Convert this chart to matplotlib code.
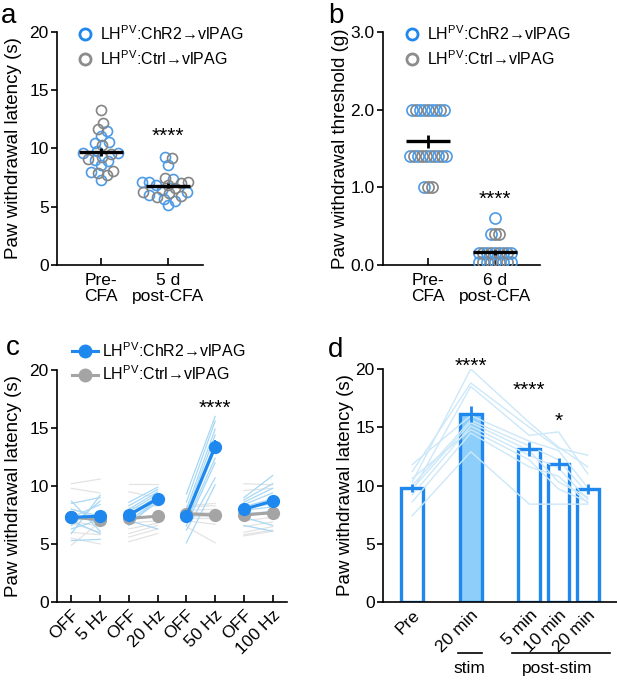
import numpy as np
import matplotlib
matplotlib.use('Agg')
import matplotlib.pyplot as plt
import matplotlib.transforms as mtransforms
from matplotlib.lines import Line2D

plt.rcParams['font.family'] = ['Liberation Sans', 'DejaVu Sans']
plt.rcParams['mathtext.fontset'] = 'custom'
plt.rcParams['mathtext.rm'] = 'Liberation Sans'
plt.rcParams['mathtext.it'] = 'Liberation Sans:italic'

# --- data -------------------------------------------------------------
# a: thermal latency (s), pre-CFA vs 5 d post-CFA
a_pre_chr2 = [11.5, 11.1, 10.6, 10.5, 9.8, 9.6, 9.6, 9.0, 8.9, 8.6, 8.0, 7.3]
a_pre_ctrl = [13.3, 12.2, 11.7, 10.3, 9.5, 9.3, 9.1, 8.1, 7.9, 7.7]
a_post_chr2 = [9.3, 8.6, 7.4, 7.15, 7.1, 6.9, 6.45, 6.3, 6.0, 5.7, 5.5, 5.15]
a_post_ctrl = [9.15, 7.5, 7.1, 7.0, 6.9, 6.6, 6.3, 6.2, 5.9, 5.85]

# b: mechanical threshold (g), pre-CFA vs 6 d post-CFA
b_pre_chr2 = [2.0, 2.0, 2.0, 2.0, 2.0, 2.0, 1.4, 1.4, 1.4, 1.4, 1.4, 1.0]
b_pre_ctrl = [2.0, 2.0, 2.0, 1.4, 1.4, 1.4, 1.4, 1.4, 1.0, 1.0]
b_post_chr2 = [0.6, 0.4, 0.16, 0.16, 0.16, 0.16, 0.16, 0.04, 0.04, 0.04, 0.04, 0.04]
b_post_ctrl = [0.4, 0.4, 0.16, 0.16, 0.16, 0.16, 0.04, 0.04, 0.04, 0.04]

# c: OFF vs laser at 5/20/50/100 Hz, individual mice and group means
c_labels = ['OFF', '5 Hz', 'OFF', '20 Hz', 'OFF', '50 Hz', 'OFF', '100 Hz']
c_chr2_off = [[8.7, 8.5, 8.0, 7.6, 7.3, 7.0, 6.6, 6.3, 5.9, 5.3],
              [8.6, 8.3, 8.0, 7.8, 7.6, 7.3, 7.0, 6.8, 6.6, 7.0],
              [9.3, 8.6, 8.0, 7.6, 7.4, 7.1, 6.9, 6.6, 6.2, 5.1],
              [9.0, 8.8, 8.6, 8.4, 8.2, 8.0, 7.9, 7.6, 7.3, 6.6]]
c_chr2_on = [[6.1, 9.0, 7.4, 6.8, 8.4, 5.9, 8.7, 7.1, 9.2, 5.4],
             [9.9, 9.7, 9.5, 9.3, 9.1, 8.9, 8.8, 8.6, 8.9, 6.3],
             [16.0, 15.6, 14.9, 14.4, 13.8, 13.1, 12.4, 12.0, 10.7, 10.1],
             [10.9, 10.2, 9.8, 9.4, 8.9, 8.5, 8.2, 7.8, 6.6, 6.1]]
c_ctrl_off = [[10.2, 9.8, 8.0, 7.5, 7.0, 6.8, 6.0, 5.5, 4.9],
              [10.2, 9.5, 8.1, 7.2, 6.8, 6.3, 5.9, 5.6, 5.2],
              [8.3, 8.2, 7.9, 7.8, 7.6, 7.4, 7.2, 7.0, 6.5],
              [10.2, 9.6, 8.0, 7.5, 7.0, 6.5, 6.0, 5.8, 5.7]]
c_ctrl_on = [[10.6, 9.4, 7.2, 6.8, 6.5, 6.0, 5.8, 5.0, 6.9],
             [10.2, 9.0, 8.3, 7.4, 7.0, 6.8, 6.6, 6.3, 5.9],
             [8.5, 8.3, 8.0, 7.8, 7.6, 7.4, 7.2, 6.7, 5.1],
             [10.1, 9.8, 8.6, 7.8, 7.3, 6.9, 6.5, 6.2, 6.1]]
c_chr2_mean_off = [7.3, 7.5, 7.4, 8.0]
c_chr2_mean_on = [7.4, 8.9, 13.4, 8.7]
c_chr2_sem_on = [0.4, 0.35, 0.55, 0.45]
c_ctrl_mean_off = [7.3, 7.2, 7.6, 7.5]
c_ctrl_mean_on = [7.1, 7.4, 7.5, 7.7]

# d: time course around 20 min of stimulation
d_labels = ['Pre', '20 min', '5 min', '10 min', '20 min']
d_mean = [9.8, 16.15, 13.15, 11.85, 9.7]
d_sem = [0.35, 0.7, 0.6, 0.55, 0.4]
d_mice = [[10.3, 20.0, 15.4, 13.3, 11.6],
          [11.2, 18.8, 15.0, 13.2, 12.6],
          [9.5, 18.5, 14.3, 14.6, 11.0],
          [11.8, 16.0, 13.8, 13.0, 9.8],
          [10.0, 15.6, 13.4, 12.2, 9.3],
          [9.7, 15.4, 13.0, 10.3, 9.0],
          [9.2, 15.1, 12.6, 11.5, 8.8],
          [10.6, 14.8, 12.2, 9.7, 8.6],
          [8.6, 14.5, 11.6, 10.8, 8.5],
          [7.4, 12.9, 8.4, 8.4, 8.4]]

BLUE_O = '#4D9BE6'
GRAY_O = '#858585'
BLUE = '#1F88EE'
GRAY = '#A4A4A4'
LBLUE = '#A8D8F5'
LGRAY = '#E3E3E3'
DLINE = '#CCE8F9'
FILL = '#8DCFFA'

LEG_CHR2 = 'LH$^{\\mathrm{PV}}$:ChR2\u2192vlPAG'
LEG_CTRL = 'LH$^{\\mathrm{PV}}$:Ctrl\u2192vlPAG'

W, H = 617, 680
fig = plt.figure(figsize=(W / 100, H / 100), dpi=100)


def px_axes(l, r, t, b):
    return fig.add_axes([l / W, 1 - b / H, (r - l) / W, (b - t) / H])


def style(ax, xin=True):
    for s in ['top', 'right']:
        ax.spines[s].set_visible(False)
    for s in ['left', 'bottom']:
        ax.spines[s].set_linewidth(1.2)
    ax.tick_params(axis='y', direction='out', length=4, width=1.2, labelsize=12.5, pad=2)
    if xin:
        ax.tick_params(axis='x', direction='in', length=5, width=1.2, labelsize=12.5, pad=6)
    else:
        ax.tick_params(axis='x', length=0, labelsize=12.5, pad=4)


def swarm(vals, xpx, ypx, d):
    # simple beeswarm: returns x offsets in data units
    vals = np.asarray(vals, float)
    offs = np.zeros(len(vals))
    placed = []
    for i in np.argsort(vals):
        y = vals[i] * ypx
        cands = [0.0]
        for px, py in placed:
            dy = y - py
            if abs(dy) < d:
                dx = np.sqrt(d * d - dy * dy)
                cands += [px + dx, px - dx]
        for c in sorted(cands, key=abs):
            if all((c - px) ** 2 + (y - py) ** 2 >= d * d - 1e-6 for px, py in placed):
                offs[i] = c
                placed.append((c, y))
                break
    return offs / xpx


def mean_sem(ax, x, vals, half):
    v = np.asarray(vals, float)
    m = v.mean()
    s = v.std(ddof=1) / np.sqrt(len(v))
    ax.hlines(m, x - half, x + half, color='k', lw=2.4, zorder=5)
    ax.vlines(x, m - s, m + s, color='k', lw=2, zorder=5)


leg_kw = dict(bbox_transform=fig.transFigure, frameon=False, fontsize=11.5, borderpad=0,
              borderaxespad=0, loc='upper left')

# --- panel a ------------------------------------------------------------
ax = px_axes(57, 203, 32, 265)
style(ax)
for i, (vb, vg) in enumerate([(a_pre_chr2, a_pre_ctrl), (a_post_chr2, a_post_ctrl)]):
    off = swarm(vb + vg, 67, 11.65, 7.6)
    nb = len(vb)
    ax.plot(i + off[:nb], vb, 'o', mfc='none', mec=BLUE_O, ms=7.2, mew=1.2, zorder=3)
    ax.plot(i + off[nb:], vg, 'o', mfc='none', mec=GRAY_O, ms=7.2, mew=1.2, zorder=3)
    mean_sem(ax, i, vb + vg, 0.33)
ax.text(1, 10.55, '****', ha='center', va='baseline', fontsize=15)
ax.set_xlim(-0.66, 1.52)
ax.set_ylim(0, 20)
ax.set_yticks([0, 5, 10, 15, 20])
ax.set_xticks([0, 1])
ax.set_xticklabels(['Pre-\nCFA', '5 d\npost-CFA'], linespacing=1.05)
ax.set_ylabel('Paw withdrawal latency (s)', fontsize=13.5, labelpad=5)
h = [Line2D([], [], ls='none', marker='o', mfc='none', mec=BLUE, mew=2, ms=8),
     Line2D([], [], ls='none', marker='o', mfc='none', mec='#8C8C8C', mew=2, ms=8)]
ax.legend(h, [LEG_CHR2, LEG_CTRL], bbox_to_anchor=(77 / W, 1 - 24 / H),
          handlelength=1.0, handletextpad=0.45, labelspacing=0.4, **leg_kw)

# --- panel b ------------------------------------------------------------
ax = px_axes(383, 540, 32, 265)
style(ax)
step = 4.0 / 67
for i, (vb, vg) in enumerate([(b_pre_chr2, b_pre_ctrl), (b_post_chr2, b_post_ctrl)]):
    allv = np.array(vb + vg)
    cols = np.array([BLUE_O] * len(vb) + [GRAY_O] * len(vg))
    for lev in np.unique(allv):
        idx = np.where(allv == lev)[0]
        # interleave the two groups along the row
        order = idx[np.argsort(np.r_[np.linspace(0, 1, (cols[idx] == BLUE_O).sum()),
                                     np.linspace(0.05, 0.95, (cols[idx] == GRAY_O).sum())])]
        xs = i + (np.arange(len(order)) - (len(order) - 1) / 2) * step
        for x, k in zip(xs, order):
            ax.plot(x, allv[k], 'o', mfc='none', mec=cols[k], ms=8, mew=1.2, zorder=3)
    mean_sem(ax, i, allv, 0.33)
ax.text(1, 0.77, '****', ha='center', va='baseline', fontsize=15)
ax.set_xlim(-0.67, 1.67)
ax.set_ylim(0, 3.0)
ax.set_yticks([0, 1, 2, 3])
ax.set_yticklabels(['0.0', '1.0', '2.0', '3.0'])
ax.set_xticks([0, 1])
ax.set_xticklabels(['Pre-\nCFA', '6 d\npost-CFA'], linespacing=1.05)
ax.set_ylabel('Paw withdrawal threshold (g)', fontsize=13.5, labelpad=1)
ax.legend(h, [LEG_CHR2, LEG_CTRL], bbox_to_anchor=(404 / W, 1 - 24 / H),
          handlelength=1.0, handletextpad=0.45, labelspacing=0.4, **leg_kw)

# --- panel c ------------------------------------------------------------
ax = px_axes(57, 287, 370, 602)
style(ax)
for k in range(4):
    x = [2 * k, 2 * k + 1]
    for a0, a1 in zip(c_ctrl_off[k], c_ctrl_on[k]):
        ax.plot(x, [a0, a1], color=LGRAY, lw=0.9, zorder=1)
for k in range(4):
    x = [2 * k, 2 * k + 1]
    for a0, a1 in zip(c_chr2_off[k], c_chr2_on[k]):
        ax.plot(x, [a0, a1], color=LBLUE, lw=0.9, zorder=2)
for k in range(4):
    x = [2 * k, 2 * k + 1]
    ax.plot(x, [c_ctrl_mean_off[k], c_ctrl_mean_on[k]], '-o', color=GRAY, lw=2.2, ms=8.5, zorder=3)
for k in range(4):
    x = [2 * k, 2 * k + 1]
    ax.errorbar(2 * k + 1, c_chr2_mean_on[k], yerr=c_chr2_sem_on[k], color=BLUE, lw=1.5, zorder=4)
    ax.plot(x, [c_chr2_mean_off[k], c_chr2_mean_on[k]], '-o', color=BLUE, lw=2.2, ms=8.5, zorder=4)
ax.text(5, 16.2, '****', ha='center', va='baseline', fontsize=15)
ax.set_xlim(-0.5, 7.5)
ax.set_ylim(0, 20)
ax.set_yticks([0, 5, 10, 15, 20])
ax.set_xticks(range(8))
ax.set_xticklabels(c_labels, rotation=45, ha='right', va='top', rotation_mode='anchor')
ax.tick_params(axis='x', pad=4)
ax.set_ylabel('Paw withdrawal latency (s)', fontsize=13.5, labelpad=5)
hc = [Line2D([], [], color=BLUE, lw=2.2, marker='o', ms=9),
      Line2D([], [], color=GRAY, lw=2.2, marker='o', ms=9)]
ax.legend(hc, [LEG_CHR2, LEG_CTRL], bbox_to_anchor=(72 / W, 1 - 341 / H),
          handlelength=1.6, handletextpad=0.25, labelspacing=0.3, **leg_kw)

# --- panel d ------------------------------------------------------------
ax = px_axes(383, 617, 369, 602)
style(ax, xin=False)
d_x = [0, 2, 4, 5, 6]
fills = ['white', FILL, 'white', 'white', 'white']
ax.bar(d_x, d_mean, width=0.75, color=fills, edgecolor=BLUE, linewidth=2.4, zorder=2)
for m in d_mice:
    ax.plot(d_x, m, color=DLINE, lw=1.0, zorder=3)
ax.errorbar(d_x, d_mean, yerr=d_sem, fmt='_', color=BLUE, ms=13, mew=2.2,
            elinewidth=2, capsize=0, zorder=4)
ax.text(2, 19.75, '****', ha='center', va='baseline', fontsize=15)
ax.text(4, 17.7, '****', ha='center', va='baseline', fontsize=15)
ax.text(5, 15.0, '*', ha='center', va='baseline', fontsize=15)
ax.set_xlim(-1.0, 7.0)
ax.set_ylim(0, 20)
ax.set_yticks([0, 5, 10, 15, 20])
ax.set_xticks(d_x)
ax.set_xticklabels(d_labels, rotation=45, ha='right', va='top', rotation_mode='anchor')
ax.set_ylabel('Paw withdrawal latency (s)', fontsize=13.5, labelpad=1)
tr = mtransforms.blended_transform_factory(ax.transData, ax.transAxes)
ax.plot([1.55, 2.4], [-0.219, -0.219], color='k', lw=1.2, transform=tr, clip_on=False)
ax.plot([3.42, 6.75], [-0.219, -0.219], color='k', lw=1.2, transform=tr, clip_on=False)
ax.text(1.95, -0.285, 'stim', transform=tr, ha='center', va='center', fontsize=12.5)
ax.text(4.97, -0.285, 'post-stim', transform=tr, ha='center', va='center', fontsize=12.5)

# panel letters
for lab, x, y in [('a', 1, 23), ('b', 328, 23), ('c', 6, 355), ('d', 328, 357)]:
    fig.text(x / W, 1 - y / H, lab, fontsize=20, va='baseline', ha='left')

fig.savefig('out.png', dpi=100)
